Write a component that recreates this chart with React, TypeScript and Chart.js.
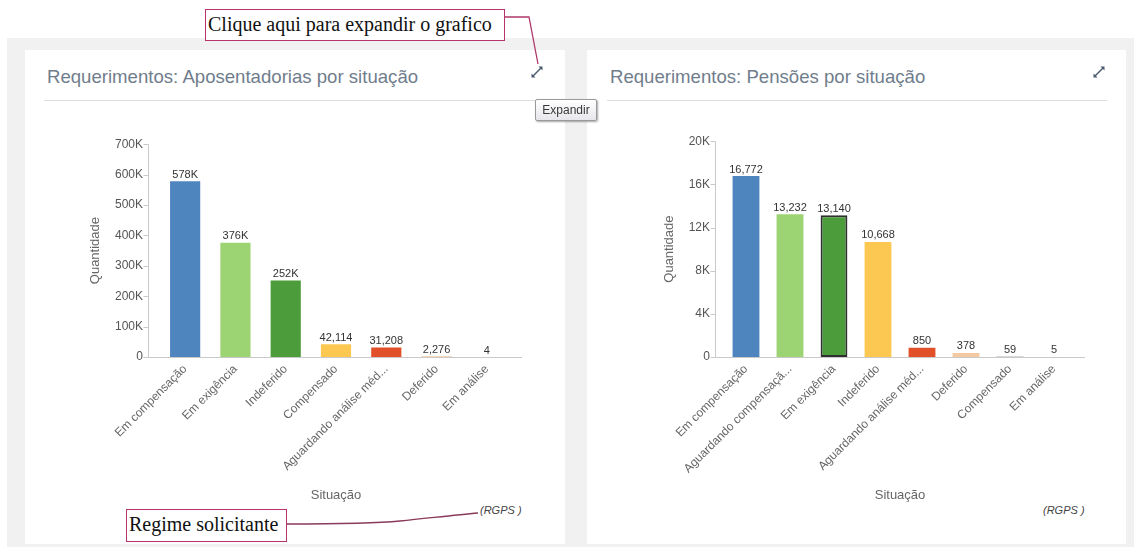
import React, { useEffect, useRef } from "react";
import { Chart, registerables } from "chart.js";

Chart.register(...registerables);

// ---------- data ----------
const LEFT_TITLE = "Requerimentos: Aposentadorias por situação";
const LEFT_CATEGORIES = [
  "Em compensação",
  "Em exigência",
  "Indeferido",
  "Compensado",
  "Aguardando análise méd...",
  "Deferido",
  "Em análise",
];
const LEFT_VALUES = [578000, 376000, 252000, 42114, 31208, 2276, 4];
const LEFT_COLORS = ["#4f85bf", "#9cd373", "#4d9c3b", "#fcc852", "#e2502a", "#f3c9a2", "#9a9a9a"];
const LEFT_BORDERS = [0, 0, 0, 0, 0, 0, 0];
const LEFT_Y_MAX = 700000;
const LEFT_Y_STEP = 100000;

const RIGHT_TITLE = "Requerimentos: Pensões por situação";
const RIGHT_CATEGORIES = [
  "Em compensação",
  "Aguardando compensaçã...",
  "Em exigência",
  "Indeferido",
  "Aguardando análise méd...",
  "Deferido",
  "Compensado",
  "Em análise",
];
const RIGHT_VALUES = [16772, 13232, 13140, 10668, 850, 378, 59, 5];
const RIGHT_COLORS = ["#4f85bf", "#9cd373", "#4d9c3b", "#fcc852", "#e2502a", "#f3c9a2", "#c9c9c9", "#9a9a9a"];
const RIGHT_BORDERS = [0, 0, 2, 0, 0, 0, 0, 0];
const RIGHT_Y_MAX = 20000;
const RIGHT_Y_STEP = 4000;

const X_TITLE = "Situação";
const Y_TITLE = "Quantidade";
const REGIME = "(RGPS )";

const FONT = "'Liberation Sans', Arial, sans-serif";

function fmtValue(v: number): string {
  return v >= 100000 ? Math.round(v / 1000) + "K" : v.toLocaleString("en-US");
}
function fmtTick(v: number): string {
  return v === 0 ? "0" : v / 1000 + "K";
}

const axisPlugin = {
  id: "axisAndLabels",
  afterDraw(chart: any, _args: any, opts: any) {
    const { ctx, chartArea, scales } = chart;
    const y = scales.y;
    const ax = Math.round(chartArea.left - opts.gapLeft) + 0.5;
    const by = Math.round(chartArea.bottom) + 0.5;
    ctx.save();
    ctx.strokeStyle = "#c9c9c9";
    ctx.lineWidth = 1;
    ctx.beginPath();
    ctx.moveTo(ax, Math.round(y.getPixelForValue(y.max)) + 0.5);
    ctx.lineTo(ax, by);
    ctx.moveTo(ax, by);
    ctx.lineTo(chartArea.right + opts.extendRight, by);
    y.ticks.forEach((t: any) => {
      const py = Math.round(y.getPixelForValue(t.value)) + 0.5;
      ctx.moveTo(ax - 5, py);
      ctx.lineTo(ax, py);
    });
    ctx.stroke();
    const meta = chart.getDatasetMeta(0);
    const data = chart.data.datasets[0].data;
    ctx.fillStyle = "#333";
    ctx.font = "11px " + FONT;
    ctx.textAlign = "center";
    ctx.textBaseline = "bottom";
    meta.data.forEach((bar: any, i: number) => {
      ctx.fillText(fmtValue(data[i]), bar.x, bar.y - 1);
    });
    ctx.restore();
  },
};

type PanelChartProps = {
  categories: string[];
  values: number[];
  colors: string[];
  borders: number[];
  yMax: number;
  yStep: number;
  width: number;
  height: number;
  yWidth: number;
  padRight: number;
  tickPad: number;
  gapLeft: number;
  extendRight: number;
  yTitlePad: number;
  barPct: number;
};

function PanelChart(p: PanelChartProps) {
  const ref = useRef<HTMLCanvasElement | null>(null);
  useEffect(() => {
    if (!ref.current) return;
    const chart = new Chart(ref.current, {
      type: "bar",
      data: {
        labels: p.categories,
        datasets: [
          {
            data: p.values,
            backgroundColor: p.colors,
            borderColor: "#2f2f2f",
            borderWidth: p.borders,
            borderSkipped: false,
            barPercentage: p.barPct,
            categoryPercentage: 1,
          },
        ],
      },
      options: {
        responsive: false,
        animation: false,
        layout: { padding: { top: 19, right: p.padRight, bottom: 0, left: 0 } },
        plugins: {
          legend: { display: false },
          tooltip: { enabled: false },
          axisAndLabels: { gapLeft: p.gapLeft, extendRight: p.extendRight },
        } as any,
        scales: {
          x: {
            grid: { display: false, drawTicks: false },
            border: { display: false },
            ticks: {
              autoSkip: false,
              minRotation: 45,
              maxRotation: 45,
              padding: 5,
              color: "#666",
              font: { family: FONT, size: 12 },
            },
            title: {
              display: true,
              text: X_TITLE,
              color: "#666",
              font: { family: FONT, size: 13 },
              padding: { top: 0, bottom: 7 },
            },
            afterFit: (s: any) => {
              s.height = 153;
            },
          },
          y: {
            min: 0,
            max: p.yMax,
            grid: { display: false, drawTicks: false },
            border: { display: false },
            ticks: {
              stepSize: p.yStep,
              padding: p.tickPad,
              color: "#555",
              font: { family: FONT, size: 12 },
              callback: (v: any) => fmtTick(Number(v)),
            },
            title: {
              display: true,
              text: Y_TITLE,
              color: "#666",
              font: { family: FONT, size: 13 },
              padding: { top: p.yTitlePad, bottom: 0 },
            },
            afterFit: (s: any) => {
              s.width = p.yWidth;
            },
          },
        },
      },
      plugins: [axisPlugin],
    });
    return () => chart.destroy();
  }, []);
  return <canvas ref={ref} width={p.width} height={p.height} style={{ display: "block" }} />;
}

function ExpandIcon({ left, top }: { left: number; top: number }) {
  return (
    <svg
      width="14"
      height="14"
      viewBox="0 0 14 14"
      style={{ position: "absolute", left, top }}
    >
      <line x1="3" y1="11" x2="11" y2="3" stroke="#4a5a6c" strokeWidth="1.4" />
      <path d="M1.5 12.5 L1.5 8.5 L5.5 12.5 Z" fill="#4a5a6c" />
      <path d="M12.5 1.5 L8.5 1.5 L12.5 5.5 Z" fill="#4a5a6c" />
    </svg>
  );
}

const panelTitle: React.CSSProperties = {
  position: "absolute",
  top: 16,
  fontFamily: FONT,
  fontSize: 18.6,
  color: "#707d8c",
  whiteSpace: "nowrap",
  lineHeight: "22px",
};

const annoBox: React.CSSProperties = {
  position: "absolute",
  border: "1.5px solid #b8336a",
  background: "#fff",
  fontFamily: "'Liberation Serif', 'DejaVu Serif', serif",
  fontSize: 20,
  color: "#111",
  boxSizing: "border-box",
  whiteSpace: "nowrap",
  lineHeight: "28px",
  paddingLeft: 2,
};

export default function App() {
  return (
    <div
      style={{
        position: "fixed",
        left: 0,
        top: 0,
        width: 1134,
        height: 547,
        background: "#fff",
        overflow: "hidden",
      }}
    >
      {/* grey dashboard background */}
      <div style={{ position: "absolute", left: 7, top: 38, width: 1127, height: 509, background: "#f1f1f1" }} />

      {/* left panel */}
      <div style={{ position: "absolute", left: 25, top: 50, width: 540, height: 494, background: "#fff" }}>
        <div style={{ ...panelTitle, left: 22 }}>{LEFT_TITLE}</div>
        <div style={{ position: "absolute", left: 19, top: 50, width: 502, height: 1, background: "#dedede" }} />
        <ExpandIcon left={505} top={15} />
        <div
          style={{
            position: "absolute",
            left: 455,
            top: 454,
            fontFamily: FONT,
            fontStyle: "italic",
            fontSize: 11,
            color: "#444",
          }}
        >
          {REGIME}
        </div>
      </div>
      <div style={{ position: "absolute", left: 30, top: 120 }}>
        <PanelChart
          categories={LEFT_CATEGORIES}
          values={LEFT_VALUES}
          colors={LEFT_COLORS}
          borders={LEFT_BORDERS}
          yMax={LEFT_Y_MAX}
          yStep={LEFT_Y_STEP}
          width={520}
          height={390}
          yWidth={130}
          padRight={38}
          tickPad={17}
          gapLeft={12}
          extendRight={10}
          yTitlePad={58}
          barPct={0.6}
        />
      </div>

      {/* right panel */}
      <div style={{ position: "absolute", left: 587, top: 50, width: 539, height: 494, background: "#fff" }}>
        <div style={{ ...panelTitle, left: 23 }}>{RIGHT_TITLE}</div>
        <div style={{ position: "absolute", left: 20, top: 50, width: 500, height: 1, background: "#dedede" }} />
        <ExpandIcon left={505} top={15} />
        <div
          style={{
            position: "absolute",
            left: 456,
            top: 454,
            fontFamily: FONT,
            fontStyle: "italic",
            fontSize: 11,
            color: "#444",
          }}
        >
          {REGIME}
        </div>
      </div>
      <div style={{ position: "absolute", left: 592, top: 120 }}>
        <PanelChart
          categories={RIGHT_CATEGORIES}
          values={RIGHT_VALUES}
          colors={RIGHT_COLORS}
          borders={RIGHT_BORDERS}
          yMax={RIGHT_Y_MAX}
          yStep={RIGHT_Y_STEP}
          width={518}
          height={390}
          yWidth={132}
          padRight={34}
          tickPad={14}
          gapLeft={9}
          extendRight={9}
          yTitlePad={70}
          barPct={0.61}
        />
      </div>

      {/* tooltip */}
      <div
        style={{
          position: "absolute",
          left: 535,
          top: 99,
          width: 62,
          height: 22,
          boxSizing: "border-box",
          border: "1px solid #9a9a9a",
          borderRadius: 2,
          background: "linear-gradient(#ffffff, #e6e6ec)",
          boxShadow: "1px 1px 2px rgba(0,0,0,0.35)",
          fontFamily: FONT,
          fontSize: 12,
          color: "#3a3a3a",
          textAlign: "center",
          lineHeight: "20px",
        }}
      >
        Expandir
      </div>

      {/* annotations */}
      <div style={{ ...annoBox, left: 205, top: 9, width: 300, height: 32 }}>Clique aqui para expandir o grafico</div>
      <div style={{ ...annoBox, left: 126, top: 509, width: 161, height: 33 }}>Regime solicitante</div>
      <svg
        width="1134"
        height="547"
        style={{ position: "absolute", left: 0, top: 0, pointerEvents: "none" }}
      >
        <polyline points="505,17 529,17 538,64" fill="none" stroke="#b0386a" strokeWidth="1.3" />
        <path d="M287,524 C340,524 380,523 400,521 C430,518 455,515 478,513" fill="none" stroke="#8a3a5a" strokeWidth="1.3" />
      </svg>
    </div>
  );
}
